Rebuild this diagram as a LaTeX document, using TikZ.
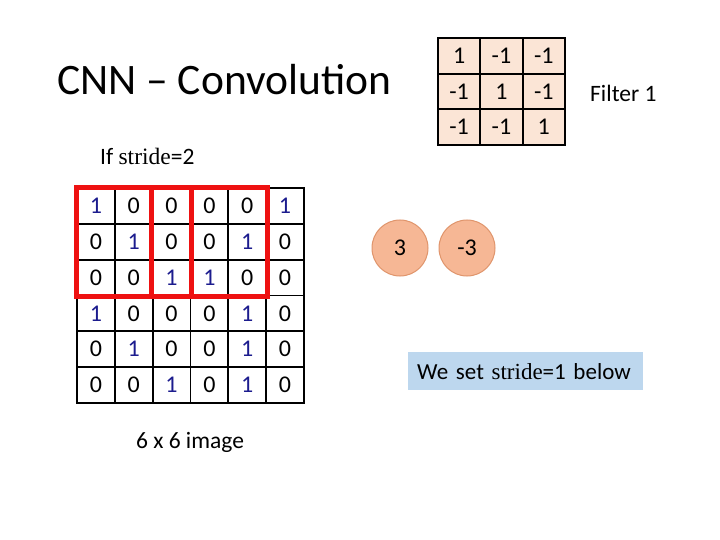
\documentclass[tikz,border=0pt]{standalone}
\usepackage{fontspec}
\setmainfont{Carlito}
\newfontfamily\serifb{Liberation Serif}
\definecolor{digblue}{HTML}{1C1C8E}
\definecolor{peach}{HTML}{FBE5D6}
\definecolor{circfill}{HTML}{F6B795}
\definecolor{circline}{HTML}{E0956C}
\definecolor{boxblue}{HTML}{BDD7EE}
\definecolor{redline}{HTML}{EE1111}
\begin{document}
\begin{tikzpicture}[x=1pt,y=-1pt,
  cell/.style={draw=black, line width=1.8pt, minimum width=37.83pt, minimum height=35.83pt, inner sep=0pt, font=\fontsize{24}{26}\selectfont},
  fcell/.style={draw=black, line width=1.8pt, fill=peach, minimum width=42.3pt, minimum height=35.7pt, inner sep=0pt, font=\fontsize{24}{26}\selectfont},
  redbox/.style={draw=redline, line width=5pt},
  circ/.style={circle, draw=circline, line width=1pt, fill=circfill, minimum size=56pt, inner sep=0pt, font=\fontsize{24}{26}\selectfont},
  lbl/.style={font=\fontsize{23.5}{26}\selectfont, inner sep=0pt}]
\useasboundingbox (0,0) rectangle (720,540);
\fill[white] (0,0) rectangle (720,540);
\node[anchor=west, inner sep=0pt, font=\fontsize{43.5}{46}\selectfont] (title) at (57,80) {CNN – Convolution};
\node[lbl, anchor=west] (ifs) at (100,156) {If {\serifb stride}=2};
% image
\foreach \v [count=\i from 0] in {1,0,0,0,0,1, 0,1,0,0,1,0, 0,0,1,1,0,0, 1,0,0,0,1,0, 0,1,0,0,1,0, 0,0,1,0,1,0}{
  \pgfmathtruncatemacro{\r}{floor(\i/6)}
  \pgfmathtruncatemacro{\c}{mod(\i,6)}
  \ifnum\v=1 \def\col{digblue}\else\def\col{black}\fi
  \node[cell, text=\col] (m-\r-\c) at ({77+37.83*\c+18.915},{188+35.83*\r+17.915}) {\v};
}
\draw[redbox] (m-0-0.north west) rectangle (m-2-2.south east);
\draw[redbox] (m-0-2.north west) rectangle (m-2-4.south east);
\node[lbl] (cap) at (190,442) {6 x 6 image};
% filter
\foreach \v [count=\i from 0] in {1,-1,-1, -1,1,-1, -1,-1,1}{
  \pgfmathtruncatemacro{\r}{floor(\i/3)}
  \pgfmathtruncatemacro{\c}{mod(\i,3)}
  \node[fcell] (f-\r-\c) at ({438+42.3*\c+21.15},{38+35.7*\r+17.85}) {\v};
}
\node[lbl, anchor=west] (flab) at (590,93) {Filter 1};
% outputs
\node[circ] (o1) at (400,248) {3};
\node[circ] (o2) at (467,248) {-3};
% note
\node[fill=boxblue, anchor=north west, text width=217pt, inner xsep=9pt, inner ysep=0pt, minimum height=38pt, font=\fontsize{23}{25}\selectfont, align=left] (note) at (408,352) {We set {\serifb stride}=1 below};
\end{tikzpicture}
\end{document}
